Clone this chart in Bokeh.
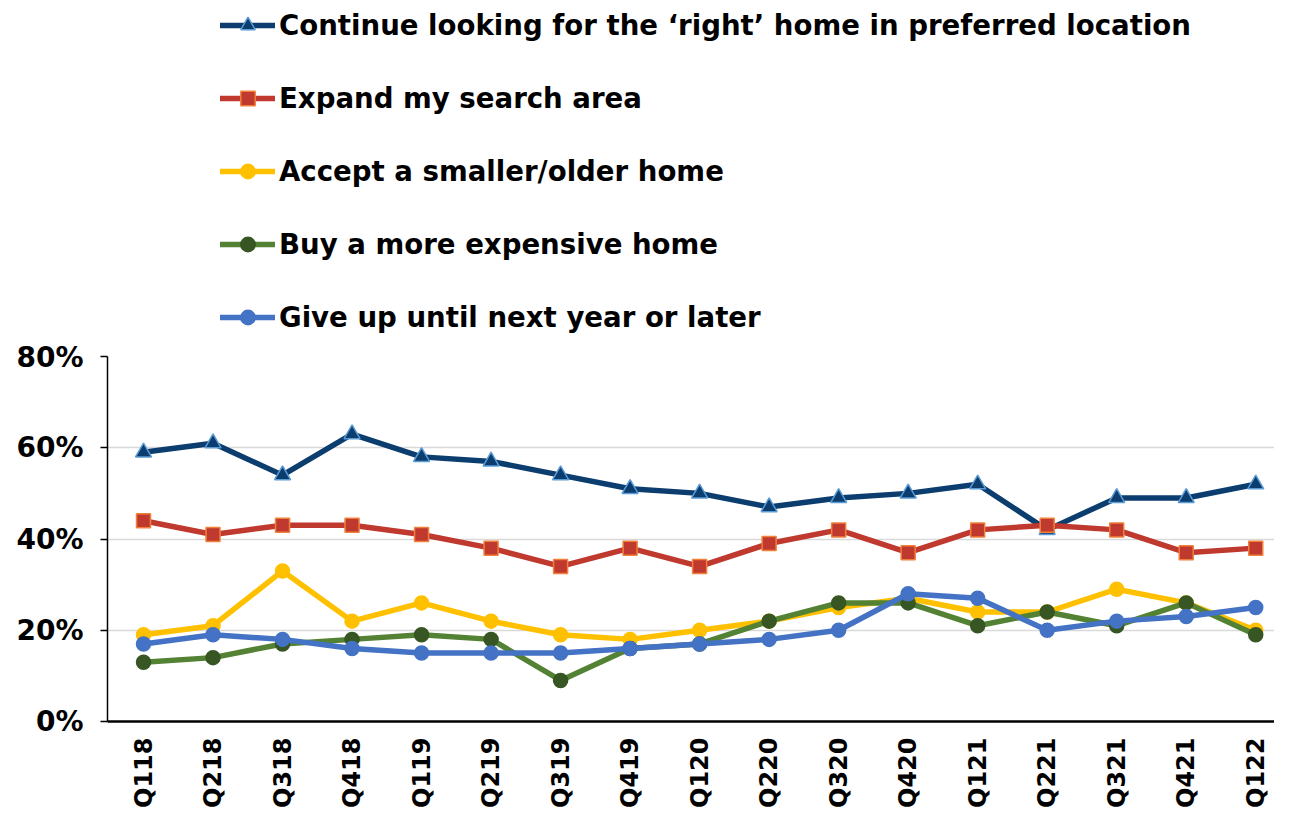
import math
from bokeh.plotting import figure
from bokeh.layouts import column
from bokeh.models import FixedTicker, Legend, LegendItem, Range1d
from bokeh.embed import file_html
from bokeh.resources import INLINE

quarters = ["Q118", "Q218", "Q318", "Q418", "Q119", "Q219", "Q319", "Q419", "Q120",
            "Q220", "Q320", "Q420", "Q121", "Q221", "Q321", "Q421", "Q122"]
continue_looking = [59, 61, 54, 63, 58, 57, 54, 51, 50, 47, 49, 50, 52, 42, 49, 49, 52]
expand_area = [44, 41, 43, 43, 41, 38, 34, 38, 34, 39, 42, 37, 42, 43, 42, 37, 38]
accept_smaller = [19, 21, 33, 22, 26, 22, 19, 18, 20, 22, 25, 27, 24, 24, 29, 26, 20]
buy_expensive = [13, 14, 17, 18, 19, 18, 9, 16, 17, 22, 26, 26, 21, 24, 21, 26, 19]
give_up = [17, 19, 18, 16, 15, 15, 15, 16, 17, 18, 20, 28, 27, 20, 22, 23, 25]
y_ticks = [0, 20, 40, 60, 80]

FONT = "DejaVu Sans"
xs = list(range(len(quarters)))

series = [
    ("Continue looking for the \u2018right\u2019 home in preferred location", continue_looking,
     "#0B3D6E", "triangle", "#0B3D6E", "#5B9BD5", 16),
    ("Expand my search area", expand_area, "#C0392F", "square", "#C0392F", "#F0803A", 14),
    ("Accept a smaller/older home", accept_smaller, "#FFC000", "circle", "#FFC000", "#FFC000", 14),
    ("Buy a more expensive home", buy_expensive, "#548235", "circle", "#375623", "#375623", 14),
    ("Give up until next year or later", give_up, "#4472C4", "circle", "#4472C4", "#4472C4", 14),
]

LEG_H = 340

# ---- main chart ----
p = figure(width=1274, height=811 - LEG_H, output_backend="svg", toolbar_location=None,
           x_range=Range1d(-0.518, 16.27), y_range=Range1d(0, 80),
           min_border_left=107, min_border_top=16, min_border_right=0, min_border_bottom=84)
p.outline_line_color = None

p.xgrid.grid_line_color = None
p.ygrid.grid_line_color = "#D9D9D9"
p.ygrid.grid_line_width = 1.5

p.yaxis.ticker = FixedTicker(ticks=y_ticks)
p.yaxis.major_label_overrides = {t: f"{t}%" for t in y_ticks}
p.yaxis.major_label_text_font = FONT
p.yaxis.major_label_text_font_style = "bold"
p.yaxis.major_label_text_font_size = "28px"
p.yaxis.major_label_text_color = "black"
p.yaxis.major_tick_in = 0
p.yaxis.major_tick_out = 7
p.yaxis.minor_tick_line_color = None
p.yaxis.axis_line_color = "black"
p.yaxis.axis_line_width = 1.5
p.yaxis.major_tick_line_width = 1.5
p.yaxis.major_label_standoff = 17

p.xaxis.ticker = FixedTicker(ticks=xs)
p.xaxis.major_label_overrides = {i: q for i, q in enumerate(quarters)}
p.xaxis.major_label_orientation = math.pi / 2
p.xaxis.major_label_text_font = FONT
p.xaxis.major_label_text_font_style = "bold"
p.xaxis.major_label_text_font_size = "24px"
p.xaxis.major_label_text_color = "black"
p.xaxis.major_tick_line_color = None
p.xaxis.minor_tick_line_color = None
p.xaxis.axis_line_color = "black"
p.xaxis.axis_line_width = 2.5
p.xaxis.major_label_standoff = 10

for label, vals, lc, marker, fc, ec, sz in series:
    p.line(xs, vals, line_color=lc, line_width=5.5, line_join="round", line_cap="round")
    p.scatter(xs, vals, marker=marker, size=sz, fill_color=fc, line_color=ec, line_width=1.5)

# ---- legend panel ----
lf = figure(width=1274, height=LEG_H, output_backend="svg", toolbar_location=None,
            x_range=Range1d(0, 1), y_range=Range1d(0, 1),
            min_border_left=107, min_border_right=0, min_border_top=0, min_border_bottom=0)
lf.axis.visible = False
lf.grid.grid_line_color = None
lf.outline_line_color = None

items = []
for label, vals, lc, marker, fc, ec, sz in series:
    # off-range proxy glyphs, used only for the legend swatches
    r1 = lf.line([-5, -4], [-5, -5], line_color=lc, line_width=5.5, line_cap="round")
    r2 = lf.scatter([-5], [-5], marker=marker, size=sz, fill_color=fc, line_color=ec, line_width=1.5)
    items.append(LegendItem(label=label, renderers=[r1, r2]))

legend = Legend(items=items, location=(113, 5), orientation="vertical",
                glyph_width=55, glyph_height=36, label_height=36, spacing=37,
                label_standoff=4, padding=0, margin=0,
                border_line_color=None, background_fill_alpha=0,
                label_text_font=FONT, label_text_font_style="bold",
                label_text_font_size="27.6px", label_text_color="black")
lf.add_layout(legend, "center")

layout = column(lf, p, spacing=0)
open("out.html", "w").write(file_html(layout, INLINE))
